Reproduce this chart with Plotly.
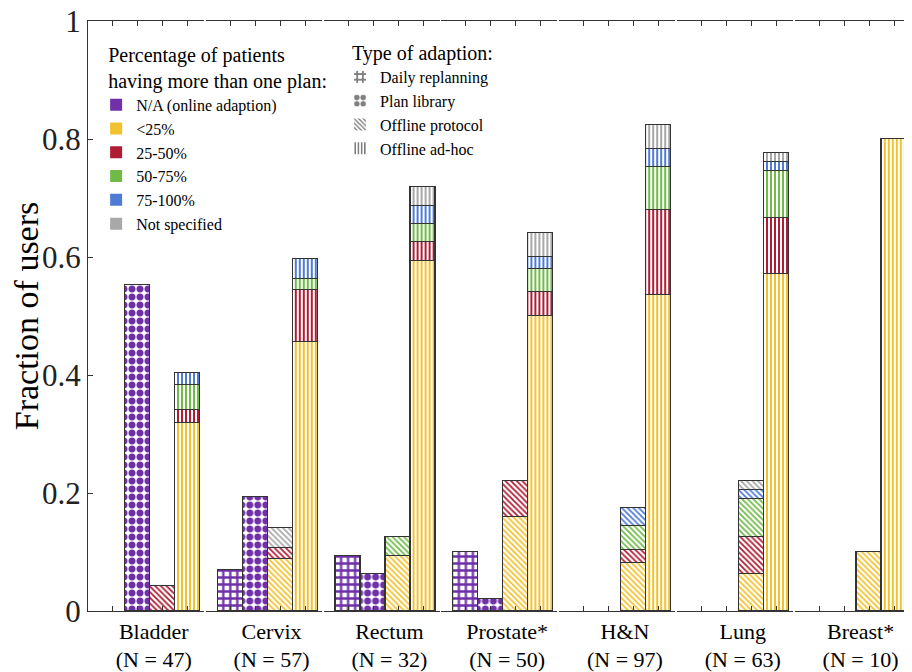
import plotly.graph_objects as go
from plotly.subplots import make_subplots

# ---------------- data ----------------
groups = ["Bladder", "Cervix", "Rectum", "Prostate*", "H&N", "Lung", "Breast*"]
n_users = [47, 57, 32, 50, 97, 63, 10]
adaptions = ["Daily replanning", "Plan library", "Offline protocol", "Offline ad-hoc"]
pct_classes = ["N/A (online adaption)", "<25%", "25-50%", "50-75%", "75-100%", "Not specified"]

# fraction of users per group; each inner list = [daily, library, protocol, ad-hoc]
na_online = [[0, 0.553, 0, 0], [0.070, 0.193, 0, 0], [0.094, 0.0625, 0, 0],
             [0.10, 0.02, 0, 0], [0, 0, 0, 0], [0, 0, 0, 0], [0, 0, 0, 0]]
lt25 = [[0, 0, 0, 0.319], [0, 0, 0.088, 0.456], [0, 0, 0.094, 0.594],
        [0, 0, 0.16, 0.50], [0, 0, 0.082, 0.536], [0, 0, 0.063, 0.571], [0, 0, 0.10, 0.80]]
p25_50 = [[0, 0, 0.043, 0.021], [0, 0, 0.018, 0.088], [0, 0, 0, 0.031],
          [0, 0, 0.06, 0.04], [0, 0, 0.021, 0.144], [0, 0, 0.063, 0.095], [0, 0, 0, 0]]
p50_75 = [[0, 0, 0, 0.043], [0, 0, 0, 0.018], [0, 0, 0.031, 0.031],
          [0, 0, 0, 0.04], [0, 0, 0.041, 0.072], [0, 0, 0.063, 0.079], [0, 0, 0, 0]]
p75_100 = [[0, 0, 0, 0.021], [0, 0, 0, 0.035], [0, 0, 0, 0.031],
           [0, 0, 0, 0.02], [0, 0, 0.031, 0.031], [0, 0, 0.016, 0.016], [0, 0, 0, 0]]
not_spec = [[0, 0, 0, 0], [0, 0, 0.035, 0], [0, 0, 0, 0.031],
            [0, 0, 0, 0.04], [0, 0, 0, 0.041], [0, 0, 0.016, 0.016], [0, 0, 0, 0]]

y_ticks = [0, 0.2, 0.4, 0.6, 0.8, 1]
y_ticktext = ["0", "0.2", "0.4", "0.6", "0.8", "1"]

series = [na_online, lt25, p25_50, p50_75, p75_100, not_spec]
colors = ["#7031A8", "#F2C12E", "#B01C34", "#70BB48", "#4F7BD6", "#A8A8A8"]

pat_shapes = ["+", ".", "\\", "|"]
pat_sizes = [7, 8, 4, 4]
pat_solid = [0.55, 0.6, 0.45, 0.5]

FONT = "Liberation Serif"
EDGE = "#333333"

fig = make_subplots(rows=1, cols=len(groups), shared_yaxes=True)

for gi, g in enumerate(groups):
    for si, (vals, col) in enumerate(zip(series, colors)):
        yv = [v if v else None for v in vals[gi]]
        fig.add_trace(go.Bar(
            x=list(range(len(adaptions))), y=yv, width=1.0,
            marker=dict(color="white", line=dict(color=EDGE, width=1.3),
                        pattern=dict(shape=pat_shapes, fgcolor=col, bgcolor="white",
                                     size=pat_sizes, solidity=pat_solid, fillmode="replace")),
            showlegend=False, hoverinfo="skip"), row=1, col=gi + 1)

# legend 1: colour classes
for name, col in zip(pct_classes, colors):
    fig.add_trace(go.Bar(x=[None], y=[None], name=name, legend="legend",
                         marker=dict(color=col, line=dict(color=col, width=0))), row=1, col=1)
# legend 2: adaption type patterns
for name, sh, sz, so in zip(adaptions, pat_shapes, pat_sizes, pat_solid):
    fig.add_trace(go.Bar(x=[None], y=[None], name=name, legend="legend2",
                         marker=dict(color="white", line=dict(color="white", width=0),
                                     pattern=dict(shape=sh, fgcolor="black", bgcolor="white",
                                                  size=sz, solidity=so))), row=1, col=1)

# page has an 8px body margin -> figure is 904x664 so it ends at the window edge
W, H = 904, 664
L, R, T, B = 80, 0, 13, 61
pw = W - L - R
step = 117.8
segw = 116.0
for gi, (g, nu) in enumerate(zip(groups, n_users)):
    d0 = (step * gi) / pw
    d1 = min((step * gi + segw) / pw, 1.0)
    key = "xaxis" if gi == 0 else f"xaxis{gi + 1}"
    fig.layout[key].update(
        domain=[d0, d1], range=[-0.98, 3.66], showline=True, linecolor=EDGE, linewidth=1.3,
        mirror="ticks", tickmode="array", tickvals=[1.65],
        ticktext=[f"{g}<br>(N = {nu})"], ticks="", ticklen=0,
        tickfont=dict(family=FONT, size=22, color="black"),
        minor=dict(tick0=0, dtick=1, ticks="inside", ticklen=5, tickcolor=EDGE, tickwidth=1),
        showgrid=False, zeroline=False, fixedrange=True)
    ykey = "yaxis" if gi == 0 else f"yaxis{gi + 1}"
    if gi == 0:
        fig.layout[ykey].update(
            range=[0, 1], tickmode="array", tickvals=y_ticks, ticktext=y_ticktext,
            ticks="inside", ticklen=5, tickcolor=EDGE, showline=True, linecolor=EDGE,
            linewidth=1.3, showgrid=False, zeroline=False, ticklabeloverflow="allow",
            tickfont=dict(family=FONT, size=31, color="#222"),
            title=dict(text="Fraction of users", font=dict(family=FONT, size=34, color="black"),
                       standoff=0))
    else:
        fig.layout[ykey].update(range=[0, 1], showline=False, showticklabels=False,
                                ticks="", showgrid=False, zeroline=False)

fig.update_layout(
    width=W, height=H, margin=dict(l=L, r=R, t=T, b=B, autoexpand=False),
    barmode="stack", bargap=0, plot_bgcolor="white", paper_bgcolor="white",
    font=dict(family=FONT, color="black"),
    legend=dict(x=0.022, y=0.975, xanchor="left", yanchor="top", bgcolor="rgba(0,0,0,0)",
                traceorder="normal", indentation=-10,
                title=dict(text="Percentage of patients<br>having more than one plan:",
                           font=dict(family=FONT, size=20)),
                font=dict(family=FONT, size=16), tracegroupgap=0, itemwidth=30),
    legend2=dict(x=0.318, y=0.978, xanchor="left", yanchor="top", bgcolor="rgba(0,0,0,0)",
                 traceorder="normal", indentation=-10,
                 title=dict(text="Type of adaption:", font=dict(family=FONT, size=20)),
                 font=dict(family=FONT, size=16), tracegroupgap=0, itemwidth=30),
)

fig.write_html("out.html")
